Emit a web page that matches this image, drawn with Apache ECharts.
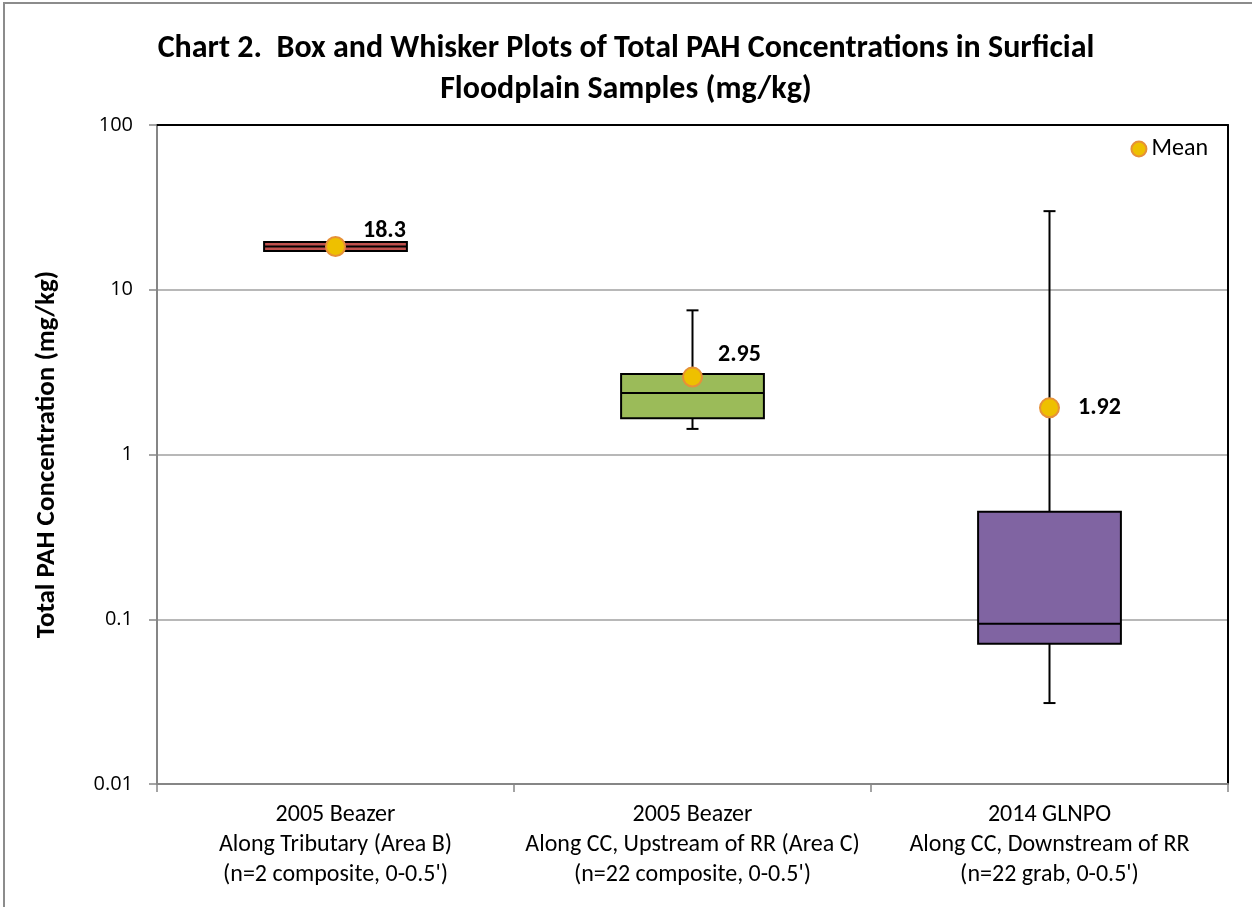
<!DOCTYPE html>
<html>
<head>
<meta charset="utf-8">
<style>
  html, body { margin: 0; padding: 0; background: #fff; }
  #frame { position: absolute; left: 3px; top: 2px; width: 1260px; height: 920px; border: 2px solid #8c8c8c; box-sizing: border-box; }
  #chart { position: absolute; left: 0; top: 0; width: 1252px; height: 907px; }
</style>
<script src="https://cdn.jsdelivr.net/npm/echarts@6/dist/echarts.min.js"></script>
</head>
<body>
<div id="frame"></div>
<div id="chart"></div>
<script>
// Sampling groups (category axis labels)
const categories = [
  "2005 Beazer\nAlong Tributary (Area B)\n(n=2 composite, 0-0.5')",
  "2005 Beazer\nAlong CC, Upstream of RR (Area C)\n(n=22 composite, 0-0.5')",
  "2014 GLNPO\nAlong CC, Downstream of RR\n(n=22 grab, 0-0.5')"
];
// Box statistics per group (mg/kg)
const whiskerMin = [17.2, 1.43, 0.031];
const quartile1  = [17.2, 1.66, 0.071];
const median     = [18.3, 2.36, 0.094];
const quartile3  = [19.5, 3.08, 0.45];
const whiskerMax = [19.5, 7.5, 30.0];
// Mean concentrations (mg/kg)
const means = [18.3, 2.95, 1.92];
// Log axis tick labels
const yTicks = ["0.01", "0.1", "1", "10", "100"];

const boxColors = ['#C0504D', '#9BBB59', '#8064A2'];
const labelOffsets = [[17, -16], [15, -22], [18, 0]];
const FONT = "Carlito, 'Liberation Sans Narrow', Lato, sans-serif";

const boxData = categories.map((c, i) => [i, whiskerMin[i], quartile1[i], median[i], quartile3[i], whiskerMax[i]]);

function renderBox(params, api) {
  const i = api.value(0);
  const pMin = api.coord([i, api.value(1)]);
  const pQ1 = api.coord([i, api.value(2)]);
  const pMed = api.coord([i, api.value(3)]);
  const pQ3 = api.coord([i, api.value(4)]);
  const pMax = api.coord([i, api.value(5)]);
  const band = api.size([1, 1])[0];
  const w = band * 0.4;
  const cx = pMed[0];
  const cap = 6;
  const lineStyle = { stroke: '#000', lineWidth: 2 };
  return {
    type: 'group',
    children: [
      { type: 'line', shape: { x1: cx, y1: pMax[1], x2: cx, y2: pMin[1] }, style: lineStyle },
      { type: 'line', shape: { x1: cx - cap, y1: pMax[1], x2: cx + cap, y2: pMax[1] }, style: lineStyle },
      { type: 'line', shape: { x1: cx - cap, y1: pMin[1], x2: cx + cap, y2: pMin[1] }, style: lineStyle },
      { type: 'rect', shape: { x: cx - w / 2, y: pQ3[1], width: w, height: pQ1[1] - pQ3[1] },
        style: { fill: boxColors[i], stroke: '#000', lineWidth: 2 } },
      { type: 'line', shape: { x1: cx - w / 2, y1: pMed[1], x2: cx + w / 2, y2: pMed[1] }, style: lineStyle }
    ]
  };
}

const chart = echarts.init(document.getElementById('chart'), null, { renderer: 'canvas' });
chart.setOption({
  animation: false,
  backgroundColor: 'transparent',
  title: {
    text: 'Chart 2.  Box and Whisker Plots of Total PAH Concentrations in Surficial\nFloodplain Samples (mg/kg)',
    left: 'center',
    top: 23,
    textStyle: { fontFamily: FONT, fontSize: 32, fontWeight: 'bold', color: '#000', lineHeight: 41 }
  },
  legend: {
    right: 39,
    top: 132,
    itemWidth: 15,
    itemHeight: 15,
    itemGap: 4,
    data: [{ name: 'Mean', icon: 'circle' }],
    textStyle: { fontFamily: FONT, fontSize: 24, color: '#000', padding: [0, 0, 0, 0] }
  },
  grid: { left: 157, right: 24, top: 125, bottom: 123, containLabel: false },
  xAxis: [
    {
      type: 'category',
      data: categories,
      boundaryGap: true,
      axisLine: { lineStyle: { color: '#868686', width: 2 } },
      axisTick: { show: true, length: 8, lineStyle: { color: '#868686', width: 1.5 } },
      axisLabel: { interval: 0, margin: 16, fontFamily: FONT, fontSize: 24, color: '#000', lineHeight: 30 },
      splitLine: { show: false }
    },
    {
      type: 'category',
      data: categories,
      position: 'top',
      axisLine: { lineStyle: { color: '#000', width: 2 } },
      axisTick: { show: false },
      axisLabel: { show: false }
    }
  ],
  yAxis: [
    {
      type: 'log',
      logBase: 10,
      min: 0.01,
      max: 100,
      name: 'Total PAH Concentration (mg/kg)',
      nameLocation: 'middle',
      nameGap: 96,
      nameRotate: 90,
      nameTextStyle: { fontFamily: FONT, fontSize: 27, fontWeight: 'bold', color: '#000' },
      axisLine: { show: true, lineStyle: { color: '#868686', width: 2 } },
      axisTick: { show: true, inside: false, length: 8, lineStyle: { color: '#868686', width: 1.5 } },
      axisLabel: {
        margin: 24, fontFamily: "'Open Sans', 'DejaVu Sans', sans-serif", fontSize: 20, color: '#000',
        formatter: function (v) {
          const k = Math.round(Math.log10(v)) + 2;
          return yTicks[k] !== undefined ? yTicks[k] : '';
        }
      },
      splitLine: { show: true, lineStyle: { color: '#A0A0A0', width: 1.5 } },
      minorTick: { show: false }
    },
    {
      type: 'log',
      logBase: 10,
      min: 0.01,
      max: 100,
      position: 'right',
      axisLine: { show: true, lineStyle: { color: '#000', width: 2 } },
      axisTick: { show: false },
      axisLabel: { show: false },
      splitLine: { show: false }
    }
  ],
  series: [
    {
      name: 'Box',
      type: 'custom',
      renderItem: renderBox,
      encode: { x: 0, y: [1, 2, 3, 4, 5] },
      data: boxData,
      z: 2
    },
    {
      name: 'Mean',
      type: 'scatter',
      symbol: 'circle',
      symbolSize: 19,
      itemStyle: { color: '#EEC000', borderColor: '#E69138', borderWidth: 2, opacity: 1 },
      data: means.map((m, i) => ({
        value: [i, m],
        label: { show: true, position: 'right', distance: 0, offset: labelOffsets[i] }
      })),
      label: {
        fontFamily: FONT, fontSize: 24, fontWeight: 'bold', color: '#000',
        formatter: function (p) { return String(p.value[1]); }
      },
      z: 5
    }
  ]
});
</script>
</body>
</html>
